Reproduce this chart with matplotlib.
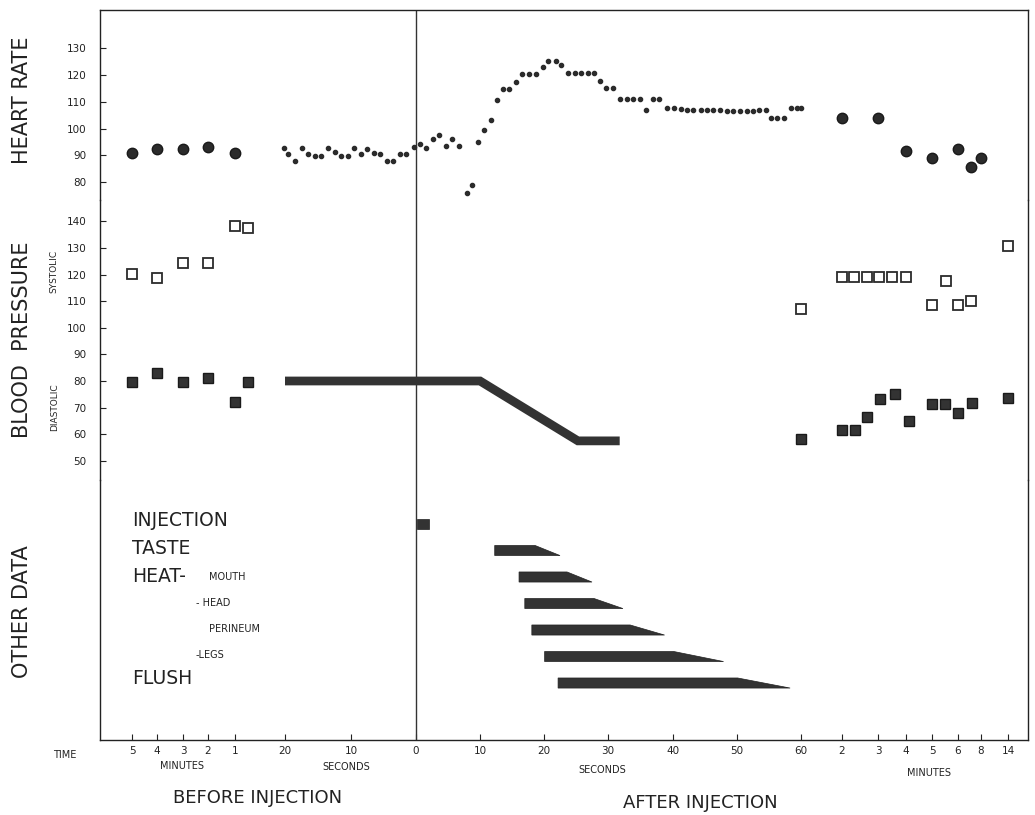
import matplotlib
matplotlib.use("Agg")
import matplotlib.pyplot as plt
import numpy as np

# time is seconds relative to the injection (minutes turned into seconds)
tick_times = [-300, -240, -180, -120, -60, -20, -10, 0, 10, 20, 30, 40, 50, 60,
              120, 180, 240, 300, 360, 480, 840]
tick_labels = ['5', '4', '3', '2', '1', '20', '10', '0', '10', '20', '30', '40', '50', '60',
               '2', '3', '4', '5', '6', '8', '14']

# heart rate, spot counts (big dots)
hr_min_t = [-300, -240, -180, -120, -60, 120, 180, 240, 300, 360, 426, 480]
hr_min = [90.8, 92.3, 92.3, 93.0, 91.0, 103.9, 104.1, 91.7, 89.1, 92.2, 85.7, 89.2]

# heart rate, beat by beat (small dots)
hr_sec_t = [-20.5, -19.5, -18.5, -17.5, -16.5, -15.5, -14.5, -13.5, -12.5, -11.5,
            -10.5, -9.5, -8.5, -7.5, -6.5, -5.5, -4.5, -3.5, -2.5, -1.5, -0.3,
            0.7, 1.6, 2.6, 3.6, 4.7, 5.6, 6.7, 8.0, 8.8, 9.7, 10.6, 11.7, 12.6, 13.6,
            14.5, 15.6, 16.5, 17.6, 18.7, 19.8, 20.6, 21.8, 22.7,
            23.7, 24.8, 25.8, 26.8, 27.8, 28.8, 29.7, 30.8, 31.8, 32.9, 33.9, 34.9,
            35.8, 36.9, 37.9,
            39.1, 40.1, 41.2, 42.2, 43.2, 44.3, 45.3, 46.3, 47.4, 48.4, 49.4, 50.5,
            51.5, 52.5, 53.5, 54.6,
            55.3, 56.3, 57.4, 58.5, 59.4, 60.5]
hr_sec = [92.8, 90.5, 87.9, 92.8, 90.5, 89.9, 89.9, 92.8, 91.4, 89.9,
          89.9, 92.8, 90.7, 92.4, 91.0, 90.5, 87.9, 87.9, 90.5, 90.7, 93.2,
          94.2, 92.8, 96.1, 97.6, 93.5, 96.0, 93.5, 76.1, 79.1, 95.1, 99.5, 103.2, 110.7, 114.7,
          114.7, 117.6, 120.3, 120.3, 120.3, 123.0, 125.3, 125.3, 123.8,
          120.7, 120.7, 120.7, 120.7, 120.7, 117.9, 115.1, 115.1, 111.0, 111.0, 111.0, 111.0,
          107.0, 111.1, 111.1,
          107.6, 107.6, 107.3, 107.0, 107.0, 107.0, 107.0, 107.0, 107.0, 106.7, 106.7, 106.7,
          106.7, 106.7, 107.0, 107.0,
          103.9, 103.9, 103.9, 107.6, 107.6, 107.6]

# blood pressure
sys_t = [-300, -240, -180, -120, -60, -50,
         60, 120, 140, 162, 183, 211, 240, 300, 332, 360, 426, 840]
sys_bp = [120.2, 118.7, 124.3, 124.3, 138.4, 137.4,
          106.9, 119, 119, 119, 119, 119, 119, 108.7, 117.7, 108.7, 110.2, 130.6]
dia_t = [-300, -240, -180, -120, -60, -50,
         60, 120, 142, 162, 184, 216, 246, 300, 330, 360, 432, 840]
dia_bp = [79.6, 83.1, 79.6, 81.0, 72.1, 79.6,
          58.2, 61.5, 61.5, 66.3, 73.1, 75.0, 65.0, 71.5, 71.5, 67.9, 71.9, 73.7]
# continuous diastolic recording
dia_band_t = [-20, 10, 25.3, 31.8]
dia_band = [80, 80, 57.5, 57.5]

# other data: onset, end of full intensity, fade out (seconds)
events = ['INJECTION', 'TASTE', 'MOUTH', 'HEAD', 'PERINEUM', 'LEGS', 'FLUSH']
ev_start = [0.2, 12.3, 16.1, 17.0, 18.1, 20.1, 22.2]
ev_full = [2.0, 18.6, 23.6, 27.8, 33.4, 40.1, 50.1]
ev_end = [2.0, 22.5, 27.5, 32.3, 38.7, 47.9, 58.3]

ink = '#2b2b2b'
W, H = 1035, 815


def fx(x):
    return x / W


def fy(y):
    return 1 - y / H


# broken time axis: each tick gets its own spot
anchor_t = [-375] + tick_times + [1100]
anchor_p = [100, 132, 157, 183, 208, 235, 285, 351, 416, 480, 544, 608, 673, 737, 801,
            842, 878, 906, 932, 958, 981, 1008, 1028]


def fwd(t):
    return np.interp(t, anchor_t, anchor_p)


def inv(p):
    return np.interp(p, anchor_p, anchor_t)


plt.rcParams['font.family'] = ['DejaVu Sans']
fig = plt.figure(figsize=(10.35, 8.15), dpi=100)
fig.patch.set_facecolor('white')

left, right = 100, 1028
ax_hr = fig.add_axes([fx(left), fy(200), (right - left) / W, 190 / H])
ax_bp = fig.add_axes([fx(left), fy(480), (right - left) / W, 280 / H], sharex=ax_hr)
ax_ot = fig.add_axes([fx(left), fy(740), (right - left) / W, 260 / H], sharex=ax_hr)

for ax in (ax_hr, ax_bp, ax_ot):
    ax.set_xscale('function', functions=(fwd, inv))
    ax.set_xlim(-375, 1100)
    ax.set_facecolor('none')
    for s in ax.spines.values():
        s.set_color('#222222')
        s.set_linewidth(1.0)
        s.set_capstyle('projecting')
    ax.axvline(0, color='#333333', lw=1.0)
    ax.tick_params(axis='both', direction='in', length=4, width=0.8,
                   labelsize=7.5, colors='#222222')
    ax.tick_params(axis='y', pad=10)

ax_hr.spines['bottom'].set_visible(False)
ax_bp.spines['top'].set_visible(False)
ax_bp.spines['bottom'].set_visible(False)
ax_ot.spines['top'].set_visible(False)
ax_hr.tick_params(axis='x', bottom=False, labelbottom=False)
ax_bp.tick_params(axis='x', bottom=False, labelbottom=False)

# heart rate
ax_hr.plot(hr_min_t, hr_min, 'o', ms=7.5, color=ink, mec='#1a1a1a')
ax_hr.plot(hr_sec_t, hr_sec, 'o', ms=3.0, color=ink)
ax_hr.set_ylim(73.3, 144.4)
ax_hr.set_yticks(range(80, 131, 10))

# blood pressure
ax_bp.plot(dia_band_t, dia_band, '-', lw=6.3, color='#333333', solid_capstyle='butt',
           solid_joinstyle='miter')
ax_bp.plot(sys_t, sys_bp, 's', ms=7, mfc='white', mec=ink, mew=1.3)
ax_bp.plot(dia_t, dia_bp, 's', ms=6.5, color='#333333', mec='#1a1a1a')
ax_bp.set_ylim(42.8, 148.0)
ax_bp.set_yticks(range(50, 141, 10))

# other data
h = 0.19
for i in range(len(events)):
    xs = [ev_start[i], ev_full[i], ev_end[i], ev_start[i]]
    ys = [i - h, i - h, i + h, i + h]
    ax_ot.fill(xs, ys, color='#333333', lw=0.5, ec='#222222')
ax_ot.set_ylim(8.15, -1.66)
ax_ot.set_yticks([])
ax_ot.set_xticks(tick_times)
ax_ot.set_xticklabels(tick_labels)
ax_ot.tick_params(axis='x', pad=4)
ax_ot.xaxis.set_minor_locator(matplotlib.ticker.NullLocator())

# row names
big = dict(fontsize=13.5, color='#222222', va='center', ha='left')
small = dict(fontsize=7, color='#222222', va='center', ha='left')
fig.text(fx(132), fy(521), 'INJECTION', **big)
fig.text(fx(132), fy(548), 'TASTE', **big)
fig.text(fx(132), fy(576), 'HEAT-', **big)
fig.text(fx(209), fy(577), 'MOUTH', **small)
fig.text(fx(196), fy(603), '- HEAD', **small)
fig.text(fx(209), fy(629), 'PERINEUM', **small)
fig.text(fx(196), fy(655), '-LEGS', **small)
fig.text(fx(132), fy(679), 'FLUSH', **big)

# side labels
side = dict(fontsize=15, color='#222222', rotation=90, ha='center', va='center')
fig.text(fx(22), fy(100), 'HEART RATE', **side)
fig.text(fx(22), fy(340), 'BLOOD  PRESSURE', **side)
fig.text(fx(22), fy(612), 'OTHER DATA', **side)
fig.text(fx(54), fy(271), 'SYSTOLIC', fontsize=6.5, color='#222222', rotation=90,
         ha='center', va='center')
fig.text(fx(55), fy(407), 'DIASTOLIC', fontsize=6.5, color='#222222', rotation=90,
         ha='center', va='center')

# bottom labels
lab = dict(fontsize=7, color='#222222', ha='center', va='center')
fig.text(fx(65), fy(755), 'TIME', **lab)
fig.text(fx(182), fy(766), 'MINUTES', **lab)
fig.text(fx(346), fy(767), 'SECONDS', **lab)
fig.text(fx(602), fy(770), 'SECONDS', **lab)
fig.text(fx(929), fy(773), 'MINUTES', **lab)
fig.text(fx(258), fy(798), 'BEFORE INJECTION', fontsize=13, color='#222222',
         ha='center', va='center')
fig.text(fx(700), fy(803), 'AFTER INJECTION', fontsize=13, color='#222222',
         ha='center', va='center')

fig.savefig('out.png', dpi=100, facecolor='white')
